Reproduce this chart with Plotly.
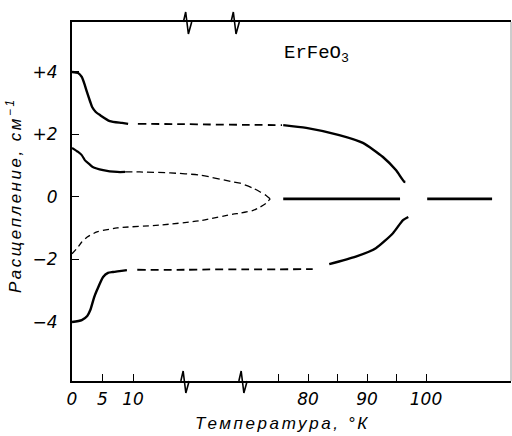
import numpy as np
import plotly.graph_objects as go

# ---------------- data (temperature in K, splitting in cm^-1) ----------------
# broken temperature axis: knots of the piecewise-linear scale (T -> axis units)
axis_T_knots = [0, 18.5, 69, 120]
axis_u_knots = [0, 112.85, 171.1, 472]

# outer upper branch
up_solid_T = [0, 1.0, 1.6, 2.1, 2.5, 3.0, 3.3, 3.9, 4.6, 6.2, 8.2, 9.2]
up_solid_y = [4.0, 3.97, 3.84, 3.58, 3.33, 3.04, 2.88, 2.72, 2.62, 2.43, 2.37, 2.34]
up_dash_T = [10.8, 18.5, 40, 69, 75.6]
up_dash_y = [2.34, 2.33, 2.32, 2.31, 2.30]
up_hi_T = [75.8, 79.7, 85.3, 89.3, 92.7, 94.9, 96.3, 96.5]
up_hi_y = [2.30, 2.21, 1.98, 1.73, 1.28, 0.86, 0.49, 0.48]

# outer lower branch
lo_solid_T = [0, 1.6, 2.5, 3.0, 3.6, 4.1, 5.1, 5.9, 6.7, 9.0]
lo_solid_y = [-4.0, -3.94, -3.81, -3.62, -3.23, -2.98, -2.56, -2.43, -2.40, -2.34]
lo_dash_T = [10.7, 18.5, 40, 69, 80.8]
lo_dash_y = [-2.33, -2.33, -2.32, -2.32, -2.31]
lo_hi_T = [83.6, 88.1, 91.5, 94.4, 96.1, 97.0]
lo_hi_y = [-2.15, -1.91, -1.64, -1.16, -0.74, -0.64]

# inner upper branch
mu_solid_T = [0, 1.0, 1.6, 2.1, 2.8, 3.4, 5.1, 7.4, 8.7]
mu_solid_y = [1.57, 1.44, 1.34, 1.18, 1.06, 0.96, 0.86, 0.80, 0.80]
mu_dash_T = [8.7, 11.1, 16.1, 31.6, 60.3, 66.4, 70.7, 71.9, 72.9, 73.6]
mu_dash_y = [0.80, 0.80, 0.77, 0.70, 0.48, 0.44, 0.28, 0.16, 0.05, -0.06]

# inner lower branch
ml_dash_T = [0, 1.0, 1.6, 2.5, 4.1, 7.4, 14.4, 31.6, 60.3, 66.4, 70.7, 71.9, 72.9, 73.6]
ml_dash_y = [-1.82, -1.60, -1.44, -1.28, -1.12, -0.99, -0.90, -0.76, -0.55, -0.52, -0.43, -0.32, -0.20, -0.06]

# central line
c1_T = [75.8, 95.6]
c1_y = [-0.06, -0.06]
c2_T = [100.2, 111.2]
c2_y = [-0.06, -0.06]

x_tick_T = [0, 5, 10, 75, 80, 85, 90, 95, 100]
x_tick_text = ["0", "5", "10", " ", "80", " ", "90", " ", "100"]
y_tick_vals = [-4, -2, 0, 2, 4]
y_tick_text = ["\u22124", "\u22122", "0", "+2", "+4"]

# positions of the axis-break zigzags (in K on the scale) -- top and bottom
break_top_T = [20.7, 62.0]
break_bot_T = [18.5, 68.8]


def u(T):
    return np.interp(np.asarray(T, dtype=float), axis_T_knots, axis_u_knots)


X_RANGE = [0, 439]
Y_RANGE = [-5.89, 5.6]
PLOT_W, PLOT_H = 439.0, 359.0

fig = go.Figure()


def add(T, y, width, dash=None):
    fig.add_trace(go.Scatter(
        x=u(T), y=y, mode="lines",
        line=dict(color="black", width=width, dash=dash, shape="spline", smoothing=0.6),
        showlegend=False, hoverinfo="skip"))


add(up_solid_T, up_solid_y, 2.4)
add(up_dash_T, up_dash_y, 1.8, "8px,5px")
add(up_hi_T, up_hi_y, 2.4)
add(lo_solid_T, lo_solid_y, 2.4)
add(lo_dash_T, lo_dash_y, 1.8, "8px,5px")
add(lo_hi_T, lo_hi_y, 2.4)
add(mu_solid_T, mu_solid_y, 2.2)
add(mu_dash_T, mu_dash_y, 1.3, "7px,4px")
add(ml_dash_T, ml_dash_y, 1.3, "6px,4px")
add(c1_T, c1_y, 2.6)
add(c2_T, c2_y, 2.6)

# zigzag break marks as unclipped paper-referenced paths
for Tb, base in [(t, 1.0) for t in break_top_T] + [(t, 0.0) for t in break_bot_T]:
    xc = float(u(Tb)) / PLOT_W
    dx = 1.0 / PLOT_W
    dy = 1.0 / PLOT_H
    pts = [(xc - 4 * dx, base), (xc - 1.7 * dx, base + 10 * dy),
           (xc + 1.0 * dx, base - 12 * dy), (xc + 4.3 * dx, base)]
    path = "M " + " L ".join(f"{px:.5f},{py:.5f}" for px, py in pts)
    fig.add_shape(type="path", xref="paper", yref="paper", path=path,
                  line=dict(color="black", width=1.6))

fig.add_shape(type="line", xref="paper", yref="paper", x0=1, x1=1, y0=0, y1=1,
              line=dict(color="#9a9a9a", width=1))

tick_font = dict(family="DejaVu Sans", size=17, color="black", style="italic")

fig.update_xaxes(range=X_RANGE, showgrid=False, zeroline=False,
                 showline=True, linecolor="black", linewidth=2, mirror=True,
                 ticks="inside", ticklen=7, tickwidth=1.3, tickcolor="black",
                 tickvals=list(u(x_tick_T)), ticktext=x_tick_text,
                 tickfont=tick_font, ticklabelstandoff=2)
fig.update_yaxes(range=Y_RANGE, showgrid=False, zeroline=False,
                 showline=True, linecolor="black", linewidth=2.2, mirror=False,
                 ticks="inside", ticklen=7, tickwidth=1.3, tickcolor="black",
                 tickvals=y_tick_vals, ticktext=y_tick_text,
                 tickfont=tick_font, ticklabelstandoff=9)

title_font = dict(family="Liberation Sans", size=17, color="black", style="italic")
fig.add_annotation(xref="paper", yref="paper", x=(282 - 72) / PLOT_W, y=(381 - 423) / PLOT_H,
                   text='<span style="letter-spacing:2.6px">Температура, °К</span>',
                   showarrow=False, font=title_font, xanchor="center", yanchor="middle")
fig.add_annotation(xref="paper", yref="paper", x=(14 - 72) / PLOT_W, y=(381 - 195) / PLOT_H,
                   text='<span style="letter-spacing:2.5px">Расщепление, см<sup>\u22121</sup></span>',
                   textangle=-90, showarrow=False, font=title_font,
                   xanchor="center", yanchor="middle")
fig.add_annotation(xref="paper", yref="paper", x=(282 - 72) / PLOT_W, y=(381 - 54) / PLOT_H,
                   text="ErFeO<sub>3</sub>", showarrow=False,
                   font=dict(family="Liberation Mono", size=19, color="black"),
                   xanchor="left", yanchor="middle")

fig.update_layout(width=512, height=436, margin=dict(l=72, r=1, t=22, b=55),
                  paper_bgcolor="white", plot_bgcolor="white")

fig.write_html("out.html")
